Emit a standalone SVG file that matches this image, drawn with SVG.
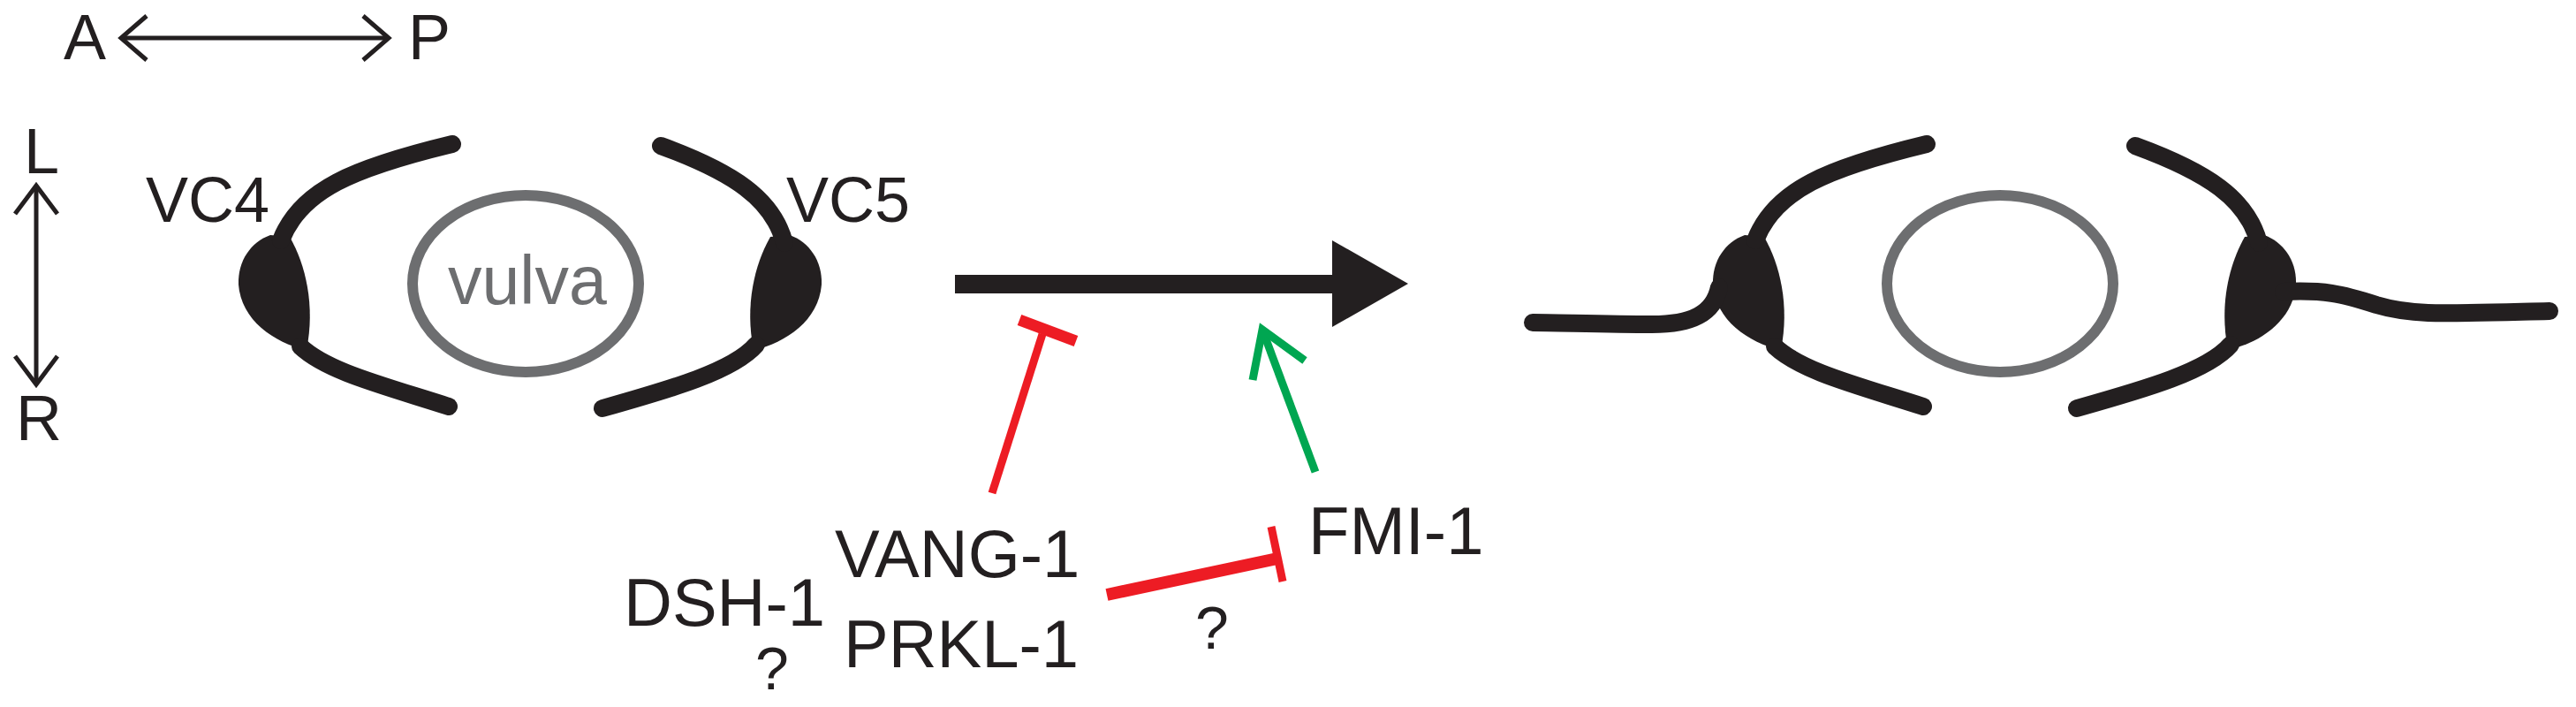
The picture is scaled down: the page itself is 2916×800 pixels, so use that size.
<svg xmlns="http://www.w3.org/2000/svg" width="2916" height="800" viewBox="0 0 2916 800">
<style>
text{font-family:"Liberation Sans",Arial,sans-serif;fill:#231f20;font-size:72px}
.proc{fill:none;stroke:#231f20;stroke-width:20;stroke-linecap:round}
.body{fill:#231f20}
.vul{fill:none;stroke:#6d6e70;stroke-width:12}
.axis{fill:none;stroke:#231f20;stroke-width:5}
.red{fill:none;stroke:#ed1c24}
.grn{fill:none;stroke:#00a651;stroke-width:9}
</style>
<rect width="2916" height="800" fill="#fff"/>
<defs>
<g id="cells">
<g id="vc4cell">
<path class="body" d="M306,266 L328,268 C346,300 357,345 347,396 C310,388 273,362 270,322 C269,295 284,274 306,266 Z"/>
<path class="proc" d="M318,272 C340,215 400,190 512,163"/>
<path class="proc" d="M340,392 C370,420 430,435 508,460"/>
</g>
<g id="vc5cell">
<path class="body" d="M894,266 L872,268 C854,300 843,345 853,396 C890,388 927,362 930,322 C931,295 916,274 894,266 Z"/>
<path class="proc" d="M888,275 C875,225 830,195 748,165"/>
<path class="proc" d="M856,390 C830,420 760,440 682,462"/>
</g>
<ellipse class="vul" cx="595" cy="321" rx="128" ry="100"/>
</g>
</defs>
<g id="axes">
<text x="72" y="67">A</text>
<text x="462" y="67">P</text>
<polyline class="axis" points="137,43 440,43"/>
<polyline class="axis" points="166,18 137,43 166,68"/>
<polyline class="axis" points="411,18 440,43 411,68"/>
<text x="27" y="196">L</text>
<text x="18" y="498">R</text>
<polyline class="axis" points="41,212 41,433"/>
<polyline class="axis" points="17,242 41,210 65,242"/>
<polyline class="axis" points="17,403 41,435 65,403"/>
</g>
<g id="left-stage">
<use href="#cells"/>
<text x="165" y="251">VC4</text>
<text x="890" y="251">VC5</text>
<text x="507" y="344" style="fill:#6d6e70;font-size:77px">vulva</text>
</g>
<g id="right-stage">
<use href="#cells" transform="translate(1669,0)"/>
<path class="proc" d="M1946,325 C1940,355 1915,367 1870,367 C1820,367 1760,365 1735,365"/>
<path class="proc" d="M2585,330 C2630,328 2650,332 2690,345 C2730,357 2760,355 2886,352"/>
</g>
<g id="connectors">
<rect x="1081" y="311" width="429" height="21" fill="#231f20"/>
<polygon points="1508,272 1594,321 1508,370" fill="#231f20"/>
<line class="red" x1="1123" y1="558" x2="1180" y2="378" stroke-width="9"/>
<line class="red" x1="1154" y1="362" x2="1218" y2="386" stroke-width="13"/>
<line class="grn" x1="1489" y1="534" x2="1429" y2="373"/>
<polyline class="grn" points="1418,430 1429,373 1477,408"/>
<line class="red" x1="1253" y1="673" x2="1446" y2="632" stroke-width="14"/>
<line class="red" x1="1439" y1="596" x2="1452" y2="658" stroke-width="9"/>
</g>
<g id="labels">
<text x="945" y="653" style="font-size:76px">VANG-1</text>
<text x="955" y="755" style="font-size:76px">PRKL-1</text>
<text x="706" y="708" style="font-size:76px">DSH-1</text>
<text x="1481" y="627" style="font-size:76px">FMI-1</text>
<text x="855" y="780" style="font-size:68px">?</text>
<text x="1353" y="734" style="font-size:68px">?</text>
</g>
</svg>
